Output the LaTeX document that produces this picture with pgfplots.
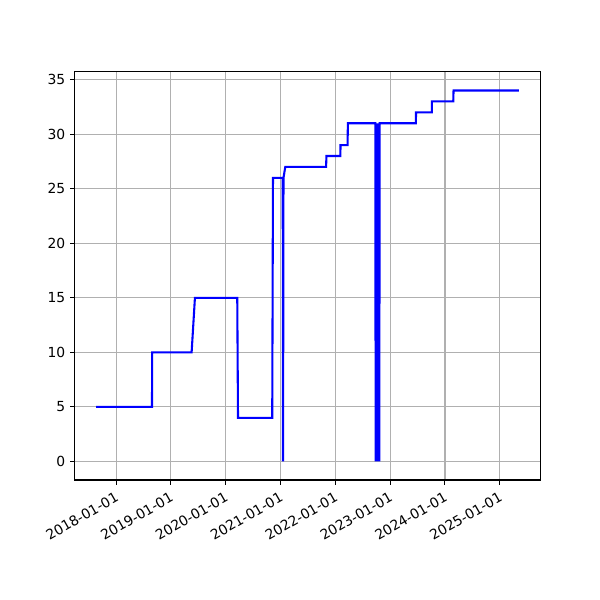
\documentclass[border=0pt]{standalone}
\usepackage{fontspec}
\setmainfont{DejaVu Sans}
\usepackage{pgfplots}
\pgfplotsset{compat=1.18}
\begin{document}
\fontsize{10.4pt}{12pt}\selectfont
\begin{tikzpicture}
\begin{axis}[
  scale only axis,
  width=348.75pt, height=306pt,
  xmin=-274, xmax=2824,
  ymin=-1.7, ymax=35.7,
  xtick={0,365,730,1096,1461,1826,2191,2557},
  xticklabels={2018-01-01,2019-01-01,2020-01-01,2021-01-01,2022-01-01,2023-01-01,2024-01-01,2025-01-01},
  xticklabel style={rotate=30, anchor=north east, inner sep=1pt, xshift=-2.5pt, yshift=-2.5pt},
  ytick={0,5,...,35},
  /pgf/number format/assume math mode=true,
  tick label style={font=\fontsize{10.4pt}{12pt}\selectfont},
  grid=major,
  major grid style={color=black!31, line width=0.8pt},
  axis line style={line width=0.75pt},
  tick style={black, line width=0.75pt},
  tick align=outside,
  major tick length=3.6pt,
  xtick pos=bottom, ytick pos=left,
  clip=false,
]
\addplot[color={rgb,1:red,0;green,0;blue,1}, line width=1.56pt, line join=miter, miter limit=2] coordinates {
(-133,5) (239,5) (240,10) (503,10) (525,15) (807,15) (812,4) (1040,4) (1045,26)
(1110,26) (1112,0) (1115,26) (1127,27) (1399,27) (1401,28) (1494,28) (1495,29)
(1542,29) (1544,31)
(1727,31) (1729,0) (1733,31) (1737,0) (1741,31) (1745,0) (1749,31) (1753,0) (1756,31)
(1997,31) (1998,32) (2103,32) (2104,33) (2246,33) (2248,34) (2683,34)
};
\end{axis}
\path (current axis.south west) ++(-56.25pt,-90pt) -- ++(450pt,450pt);
\end{tikzpicture}
\end{document}
